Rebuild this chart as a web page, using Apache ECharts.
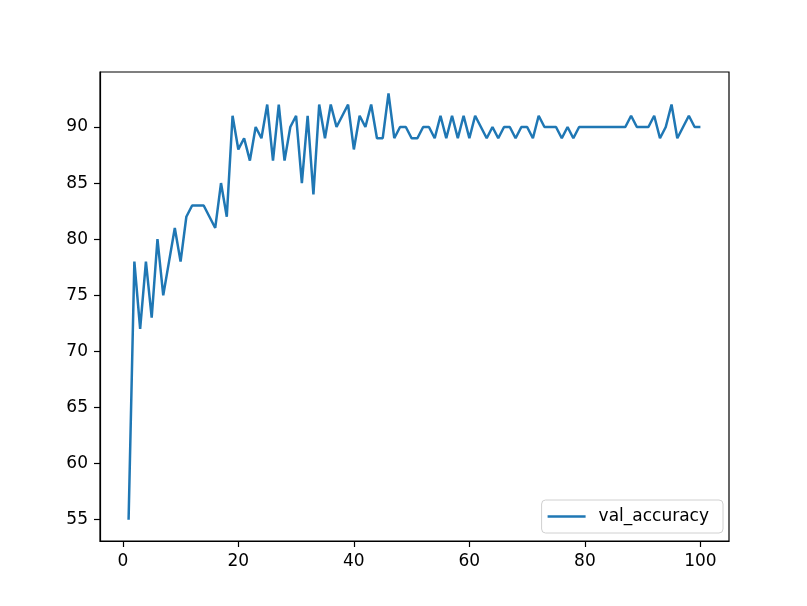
<!DOCTYPE html>
<html>
<head>
<meta charset="utf-8">
<script src="https://cdn.jsdelivr.net/npm/echarts@6/dist/echarts.min.js"></script>
<style>html,body{margin:0;padding:0;background:#fff}#c{width:807px;height:606px}</style>
</head>
<body>
<div id="c"></div>
<script>
const seriesName = 'val_accuracy';
const epochs = Array.from({length: 100}, (_, i) => i + 1);
const valAccuracy = [
  55, 78, 72, 78, 73, 80, 75, 78, 81, 78,
  82, 83, 83, 83, 82, 81, 85, 82, 91, 88,
  89, 87, 90, 89, 92, 87, 92, 87, 90, 91,
  85, 91, 84, 92, 89, 92, 90, 91, 92, 88,
  91, 90, 92, 89, 89, 93, 89, 90, 90, 89,
  89, 90, 90, 89, 91, 89, 91, 89, 91, 89,
  91, 90, 89, 90, 89, 90, 90, 89, 90, 90,
  89, 91, 90, 90, 90, 89, 90, 89, 90, 90,
  90, 90, 90, 90, 90, 90, 90, 91, 90, 90,
  90, 91, 89, 90, 92, 89, 90, 91, 90, 90
];
const xTicks = [0, 20, 40, 60, 80, 100];
const yTicks = [55, 60, 65, 70, 75, 80, 85, 90];

const chart = echarts.init(document.getElementById('c'), null, {renderer: 'canvas'});
const font = 'DejaVu Sans';
chart.setOption({
  animation: false,
  backgroundColor: '#fff',
  grid: {left: 100, top: 72, right: 78, bottom: 65, show: true, borderColor: '#000', borderWidth: 1.2, backgroundColor: 'transparent'},
  legend: {
    data: [seriesName],
    right: 84, top: 500,
    icon: 'rect', itemWidth: 38, itemHeight: 2.5,
    padding: [8, 14, 8, 6],
    borderColor: '#d0d0d0', borderWidth: 1, borderRadius: 4,
    backgroundColor: 'rgba(255,255,255,0.8)',
    textStyle: {fontFamily: font, fontSize: 17, color: '#000', padding: [0, 0, 0, 8]}
  },
  xAxis: {
    type: 'value', min: -3.95, max: 104.95,
    axisLine: {show: true, onZero: false, lineStyle: {color: '#000', width: 1.2}},
    axisTick: {show: true, length: 6, customValues: xTicks, lineStyle: {color: '#000', width: 1.2}},
    axisLabel: {show: true, margin: 12, customValues: xTicks, fontFamily: font, fontSize: 17, color: '#000'},
    splitLine: {show: false}
  },
  yAxis: {
    type: 'value', min: 53.1, max: 94.9,
    axisLine: {show: true, onZero: false, lineStyle: {color: '#000', width: 1.2}},
    axisTick: {show: true, length: 6, customValues: yTicks, lineStyle: {color: '#000', width: 1.2}},
    axisLabel: {show: true, margin: 12, customValues: yTicks, fontFamily: font, fontSize: 17, color: '#000'},
    splitLine: {show: false}
  },
  series: [{
    name: seriesName,
    type: 'line',
    data: epochs.map((e, i) => [e, valAccuracy[i]]),
    symbol: 'none',
    lineStyle: {color: '#1f77b4', width: 2.5},
    itemStyle: {color: '#1f77b4'}
  }]
});
</script>
</body>
</html>
